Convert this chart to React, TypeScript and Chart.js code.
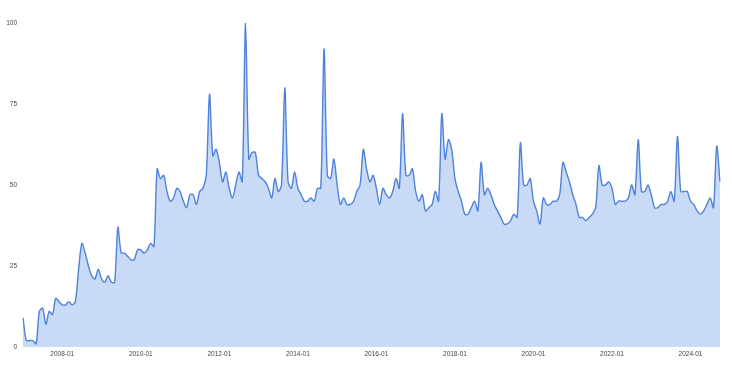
import React, { useEffect, useRef } from "react";
import { Chart, registerables } from "chart.js";

Chart.register(...registerables);

const START_YEAR = 2007;
const y2007 = [9, 2, 2, 2, 1, 11, 12, 7, 11, 10, 15, 14];
const y2008 = [13, 13, 14, 13, 14, 24, 32, 29, 25, 22, 21, 24];
const y2009 = [21, 20, 22, 20, 20, 37, 29, 29, 28, 27, 27, 30];
const y2010 = [30, 29, 30, 32, 31, 55, 52, 53, 48, 45, 46, 49];
const y2011 = [48, 45, 43, 47, 47, 44, 48, 49, 53, 78, 59, 61];
const y2012 = [57, 51, 54, 49, 46, 50, 54, 51, 100, 58, 60, 60];
const y2013 = [53, 52, 51, 49, 46, 52, 48, 50, 80, 51, 49, 54];
const y2014 = [49, 47, 45, 45, 46, 45, 49, 49, 92, 53, 52, 58];
const y2015 = [50, 44, 46, 44, 44, 45, 48, 50, 61, 55, 51, 53];
const y2016 = [49, 44, 49, 47, 46, 48, 52, 49, 72, 53, 53, 55];
const y2017 = [48, 45, 47, 42, 43, 44, 48, 45, 72, 58, 64, 61];
const y2018 = [52, 48, 45, 41, 41, 43, 45, 42, 57, 47, 49, 47];
const y2019 = [44, 42, 40, 38, 38, 39, 41, 40, 63, 50, 50, 52];
const y2020 = [45, 42, 38, 46, 44, 44, 45, 45, 47, 57, 54, 51];
const y2021 = [47, 44, 40, 40, 39, 40, 41, 43, 56, 50, 50, 51];
const y2022 = [49, 44, 45, 45, 45, 46, 50, 47, 64, 48, 48, 50];
const y2023 = [47, 43, 43, 44, 44, 45, 48, 45, 65, 48, 48, 48];
const y2024 = [45, 44, 42, 41, 42, 44, 46, 43, 62, 51];

const yearly = [y2007, y2008, y2009, y2010, y2011, y2012, y2013, y2014, y2015, y2016, y2017, y2018, y2019, y2020, y2021, y2022, y2023, y2024];
const values: number[] = ([] as number[]).concat(...yearly);
const labels: string[] = [];
yearly.forEach((arr, yi) => {
  arr.forEach((_, m) => {
    labels.push(`${START_YEAR + yi}-${String(m + 1).padStart(2, "0")}`);
  });
});
const shownTickLabels = ["2008-01", "2010-01", "2012-01", "2014-01", "2016-01", "2018-01", "2020-01", "2022-01", "2024-01"];
const yTicks = [0, 25, 50, 75, 100];

export default function App() {
  const ref = useRef<HTMLCanvasElement>(null);
  useEffect(() => {
    document.body.style.margin = "0";
    const ctx = ref.current!;
    const chart = new Chart(ctx, {
      type: "line",
      data: {
        labels,
        datasets: [
          {
            data: values,
            borderColor: "#4f82d9",
            backgroundColor: "#c8daf6",
            borderWidth: 1.4,
            fill: "origin",
            pointRadius: 0,
            tension: 0.3,
          },
        ],
      },
      options: {
        animation: false,
        responsive: false,
        maintainAspectRatio: false,
        layout: { padding: { left: 0, right: 12, top: 23, bottom: 0 } },
        plugins: { legend: { display: false }, tooltip: { enabled: false } },
        scales: {
          x: {
            type: "category",
            offset: false,
            grid: { display: false, drawTicks: false },
            border: { display: false },
            afterBuildTicks: (scale: any) => {
              scale.ticks = scale.ticks.filter((t: any) => shownTickLabels.includes(labels[t.value]));
            },
            afterFit: (scale: any) => {
              scale.height = 30;
            },
            ticks: {
              autoSkip: false,
              maxRotation: 0,
              padding: 3,
              color: "#444",
              font: { family: "Liberation Sans, Arial, sans-serif", size: 6.5 },
            },
          },
          y: {
            min: 0,
            max: 100,
            grid: { display: false, drawTicks: false },
            border: { display: false },
            afterBuildTicks: (scale: any) => {
              scale.ticks = yTicks.map((v) => ({ value: v }));
            },
            afterFit: (scale: any) => {
              scale.width = 23;
            },
            ticks: {
              padding: 6,
              color: "#444",
              font: { family: "Liberation Sans, Arial, sans-serif", size: 6.5 },
            },
          },
        },
      },
    });
    return () => chart.destroy();
  }, []);
  return (
    <div style={{ position: "absolute", left: 0, top: 0, width: 732, height: 377, background: "#fff" }}>
      <canvas ref={ref} width={732} height={377} style={{ width: 732, height: 377 }} />
    </div>
  );
}
